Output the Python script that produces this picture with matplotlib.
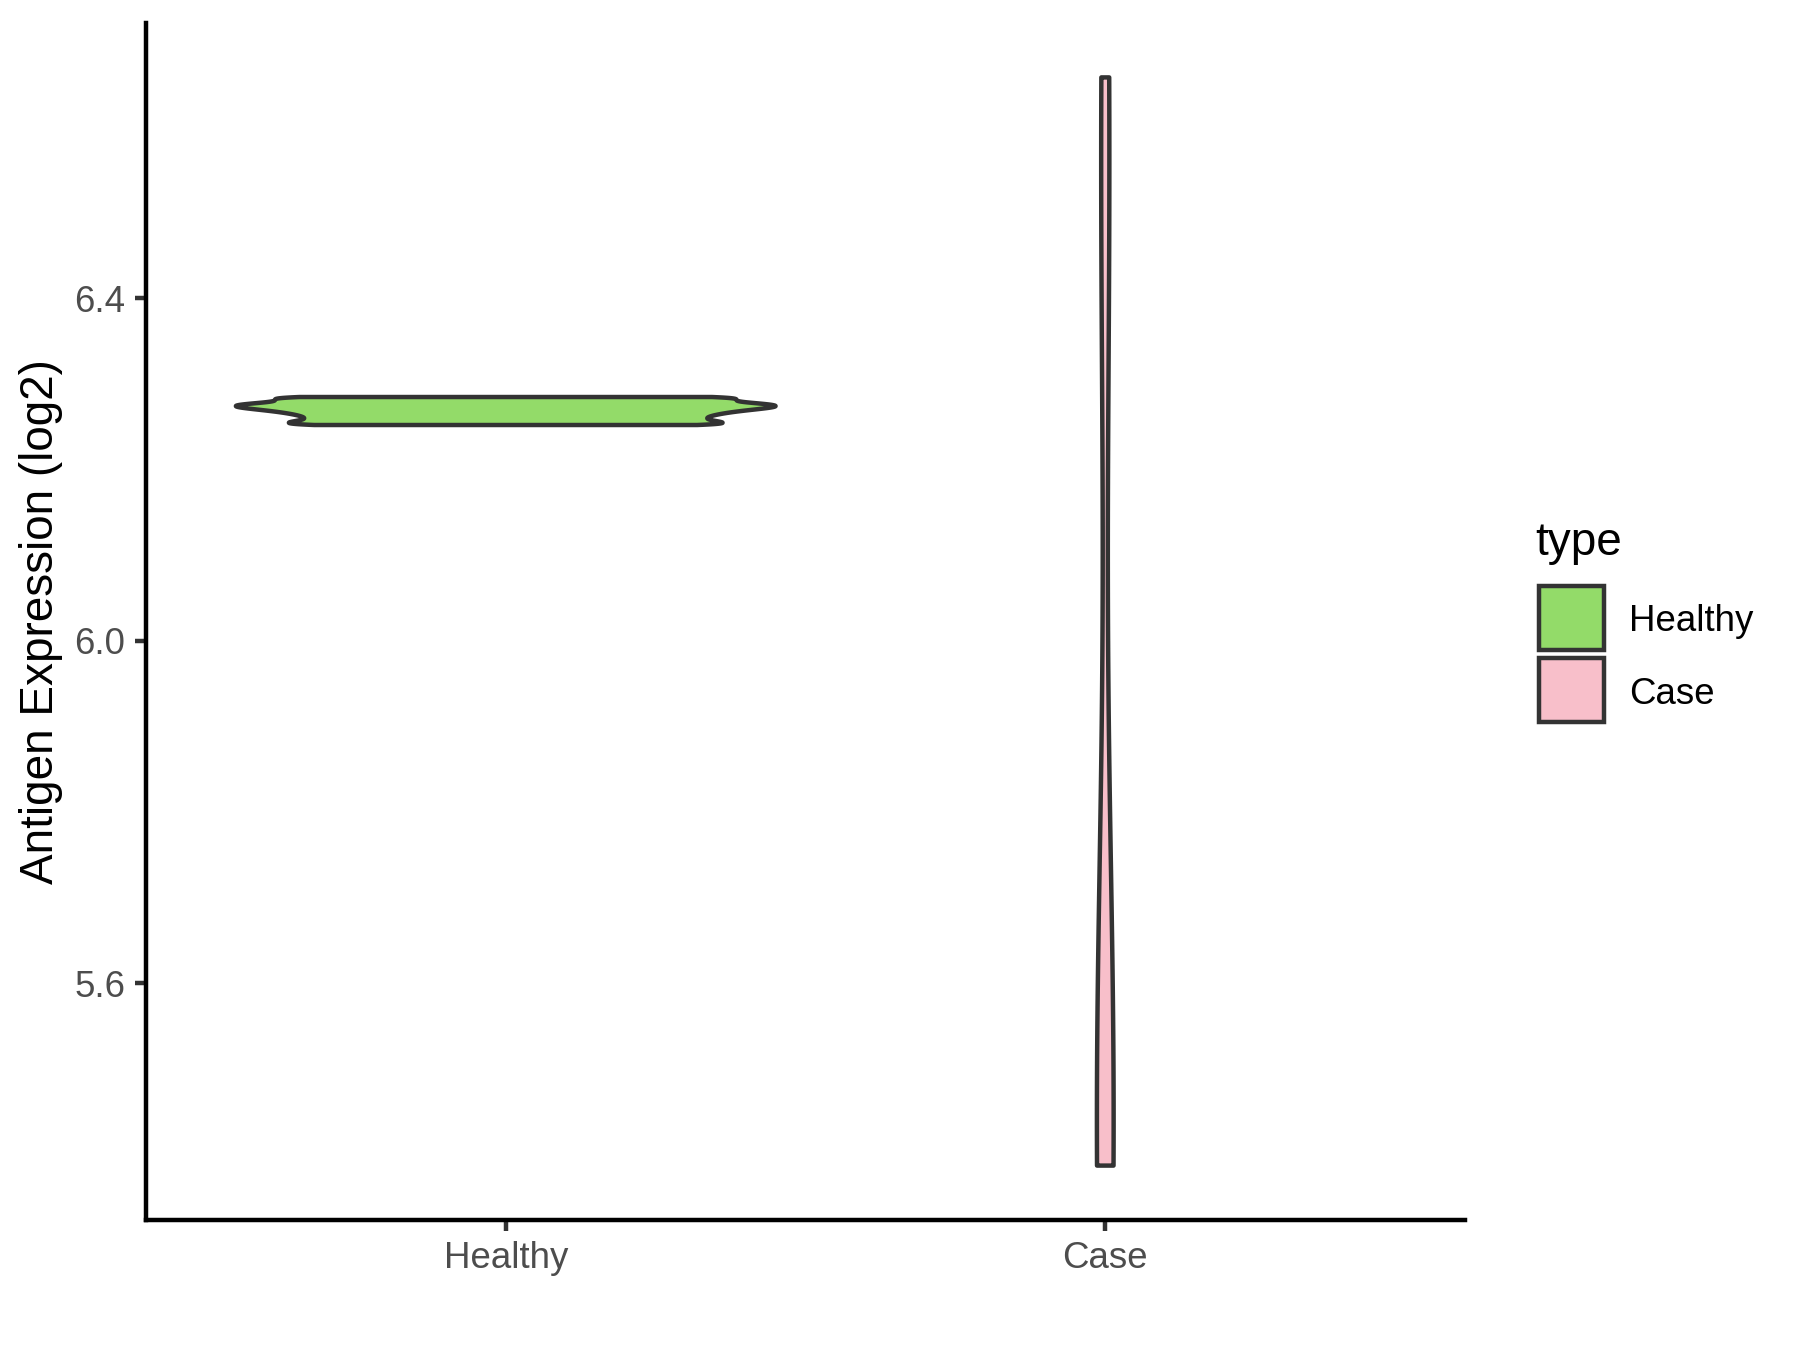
import numpy as np
import matplotlib
matplotlib.use('Agg')
import matplotlib.pyplot as plt
from matplotlib.patches import Rectangle

plt.rcParams['font.family'] = ['Liberation Sans', 'DejaVu Sans']

# data (log2 antigen expression)
groups = ['Healthy', 'Case']
colors = ['#93DB69', '#F8BFCA']
healthy = [6.2520, 6.2520, 6.2550, 6.2580, 6.2608, 6.2636, 6.2662, 6.2687,
           6.2710, 6.2731, 6.2750, 6.2768, 6.2787, 6.2828, 6.2847, 6.2847]
case = [5.387, 5.400, 5.450, 5.520, 6.480, 6.658]
bandwidths = [0.0034, 0.32]
max_widths = [0.9, 0.0279]
yticks = [5.6, 6.0, 6.4]


def kde(vals, bw, n=512):
    vals = np.asarray(vals)
    y = np.linspace(vals.min(), vals.max(), n)
    d = (y[:, None] - vals[None, :]) / bw
    dens = np.exp(-0.5 * d ** 2).sum(axis=1) / (len(vals) * bw * np.sqrt(2 * np.pi))
    return y, dens


fig = plt.figure(figsize=(6, 4.5), dpi=300)
ax = fig.add_axes([146 / 1800, 1 - 1220 / 1350, (1465 - 146) / 1800, (1220 - 23) / 1350])

for i, vals in enumerate([healthy, case]):
    y, dens = kde(vals, bandwidths[i])
    w = dens / dens.max() * max_widths[i] / 2
    xs = np.concatenate([i + 1 - w, (i + 1 + w)[::-1]])
    ys = np.concatenate([y, y[::-1]])
    ax.fill(xs, ys, facecolor=colors[i], edgecolor='#333333', lw=1.07, joinstyle='round')

allv = healthy + case
lo, hi = min(allv), max(allv)
pad = (hi - lo) * 0.05
ax.set_ylim(lo - pad, hi + pad)
ax.set_xlim(0.4, 2.6)
ax.set_xticks([1, 2])
ax.set_xticklabels(groups)
ax.set_yticks(yticks)
ax.set_yticklabels(['%.1f' % t for t in yticks])

for s in ['top', 'right']:
    ax.spines[s].set_visible(False)
for s in ['left', 'bottom']:
    ax.spines[s].set_color('black')
    ax.spines[s].set_linewidth(1.07)
ax.tick_params(length=2.75, width=1.07, color='#333333', labelcolor='#4D4D4D',
               labelsize=8.8, pad=2.2)

ax.set_ylabel('Antigen Expression (log2)', fontsize=11, color='black')
ax.yaxis.set_label_coords(-0.0627, 0.5)

# legend
fig.text(1535 / 1800, 1 - 555 / 1350, 'type', fontsize=11, ha='left', va='baseline')
key_y = [586, 658]
for i, g in enumerate(groups):
    fig.add_artist(Rectangle((1539 / 1800, 1 - (key_y[i] + 64) / 1350), 65 / 1800, 64 / 1350,
                             transform=fig.transFigure, facecolor=colors[i],
                             edgecolor='#333333', lw=1.07))
    fig.text(1629 / 1800, 1 - (key_y[i] + 36) / 1350, g, fontsize=8.8, ha='left', va='center')

fig.savefig('out.png', dpi=300)
